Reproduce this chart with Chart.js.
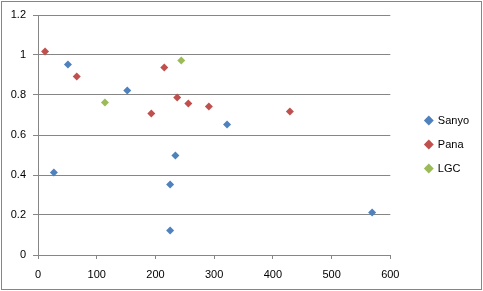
<!DOCTYPE html>
<html>
<head>
<meta charset="UTF-8">
<title>Scatter</title>
<script src="https://cdn.jsdelivr.net/npm/chart.js"></script>
<style>
body { margin: 0; background: #fff; }
</style>
</head>
<body>
<canvas id="chart" width="483" height="291"></canvas>
<script>
const seriesNames = ['Sanyo', 'Pana', 'LGC'];
const sanyoX = [51, 152, 27, 234, 225, 225, 322, 569];
const sanyoY = [0.953, 0.823, 0.413, 0.498, 0.353, 0.123, 0.652, 0.213];
const panaX = [12, 66, 193, 215, 237, 256, 291, 429];
const panaY = [1.018, 0.893, 0.707, 0.938, 0.788, 0.758, 0.743, 0.718];
const lgcX = [114, 244];
const lgcY = [0.763, 0.973];
const xTicks = [0, 100, 200, 300, 400, 500, 600];
const yTicks = [0, 0.2, 0.4, 0.6, 0.8, 1, 1.2];

const colors = ['#4f81bd', '#c0504d', '#9bbb59'];
const gridColor = '#868686';
const font = { family: 'Liberation Sans', size: 11 };

function pts(xs, ys) {
	return xs.map((x, i) => ({ x: x, y: ys[i] }));
}

const frame = {
	id: 'frame',
	beforeDraw(chart) {
		const c = chart.ctx;
		c.save();
		c.fillStyle = '#fff';
		c.fillRect(0, 0, chart.width, chart.height);
		c.strokeStyle = gridColor;
		c.lineWidth = 1;
		c.strokeRect(1.5, 1.5, chart.width - 3, chart.height - 3);
		c.restore();
	},
	// nudge the legend over to where the original sits
	afterLayout(chart) {
		const lg = chart.legend;
		lg.left += 22; lg.right += 22;
		lg.top -= 7; lg.bottom -= 7;
	}
};

const ctx = document.getElementById('chart');
const chart = new Chart(ctx, {
	type: 'scatter',
	data: {
		datasets: [
			{ label: seriesNames[0], data: pts(sanyoX, sanyoY) },
			{ label: seriesNames[1], data: pts(panaX, panaY) },
			{ label: seriesNames[2], data: pts(lgcX, lgcY) }
		].map((d, i) => Object.assign(d, {
			backgroundColor: colors[i],
			borderColor: colors[i],
			borderWidth: 0,
			pointStyle: 'rectRot',
			pointRadius: 4,
			pointHoverRadius: 4
		}))
	},
	options: {
		responsive: false,
		animation: false,
		layout: { padding: { top: 15, left: 0, right: 26, bottom: 3 } },
		plugins: {
			tooltip: { enabled: false },
			legend: {
				position: 'right',
				labels: {
					usePointStyle: true,
					boxWidth: 7,
					boxHeight: 7,
					padding: 13,
					color: '#000',
					font: font
				}
			}
		},
		scales: {
			x: {
				type: 'linear',
				min: 0,
				max: 600,
				afterBuildTicks: s => { s.ticks = xTicks.map(v => ({ value: v })); },
				afterFit: s => { s.height = 33; },
				grid: { drawOnChartArea: false, tickLength: 4, color: gridColor },
				border: { color: gridColor },
				ticks: { color: '#000', font: font, padding: 9 }
			},
			y: {
				min: 0,
				max: 1.2,
				afterBuildTicks: s => { s.ticks = yTicks.map(v => ({ value: v })); },
				afterFit: s => { s.width = 38; },
				grid: { tickLength: 5, color: gridColor },
				border: { color: gridColor },
				ticks: { color: '#000', font: font, padding: 7, callback: v => String(+v.toFixed(1)) }
			}
		}
	},
	plugins: [frame]
});
</script>
</body>
</html>
